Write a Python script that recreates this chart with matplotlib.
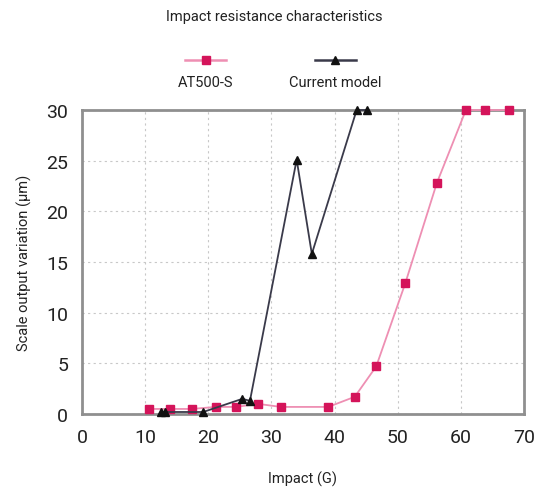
import matplotlib
matplotlib.use("Agg")
import matplotlib.pyplot as plt
from matplotlib.lines import Line2D

plt.rcParams['font.family'] = ['Roboto', 'DejaVu Sans']

title = "Impact resistance characteristics"
x_label = "Impact (G)"
y_label = "Scale output variation (µm)"
series_names = ["AT500-S", "Current model"]

at500_x = [10.6, 13.9, 17.4, 21.2, 24.4, 27.9, 31.5, 39.0, 43.2, 46.6, 51.2, 56.2, 60.8, 63.8, 67.6]
at500_y = [0.5, 0.5, 0.5, 0.7, 0.7, 1.0, 0.7, 0.7, 1.7, 4.7, 12.9, 22.8, 30, 30, 30]

cur_x = [12.5, 13.2, 19.2, 25.4, 26.6, 34.0, 36.4, 43.5, 45.1]
cur_y = [0.2, 0.2, 0.2, 1.5, 1.3, 25.1, 15.8, 30, 30]

x_ticks = [0, 10, 20, 30, 40, 50, 60, 70]
y_ticks = [0, 5, 10, 15, 20, 25, 30]

pink_line = '#ee8fb3'
pink_mark = '#d4145a'
dark_line = '#3a3a4a'
dark_mark = '#111111'
spine_col = '#8f8f8f'
text_col = '#222222'

fig = plt.figure(figsize=(5.48, 4.89), dpi=100)
ax = fig.add_axes([0.1496, 0.1513, 0.8066, 0.6217])

ax.plot(at500_x, at500_y, color=pink_line, lw=1.3, marker='s', ms=6,
        mfc=pink_mark, mec=pink_mark, zorder=3, clip_on=False)
ax.plot(cur_x, cur_y, color=dark_line, lw=1.3, marker='^', ms=5.5,
        mfc=dark_mark, mec=dark_mark, zorder=4, clip_on=False)

ax.set_xlim(0, 70)
ax.set_ylim(0, 30)
ax.set_xticks(x_ticks)
ax.set_yticks(y_ticks)
ax.tick_params(length=0, labelsize=14, colors=text_col, pad=10)
ax.grid(True, color='#c8c8c8', linestyle=(0, (2, 3)), lw=0.8)
ax.set_axisbelow(True)
for s in ax.spines.values():
    s.set_color(spine_col)
    s.set_linewidth(2)

ax.set_xlabel(x_label, fontsize=10.5, color=text_col, labelpad=18)
ax.set_ylabel(y_label, fontsize=10.5, color=text_col, labelpad=10)
fig.text(0.5, 0.965, title, ha='center', va='center', fontsize=10.5, color=text_col)

# legend: handle above label
legend_items = [
    (0.375, pink_line, pink_mark, 's', series_names[0]),
    (0.612, dark_line, dark_mark, '^', series_names[1]),
]
for cx, lc, mc, mk, name in legend_items:
    fig.add_artist(Line2D([cx - 0.037, cx + 0.037], [0.876, 0.876], transform=fig.transFigure,
                          color=lc, lw=1.8))
    fig.add_artist(Line2D([cx], [0.876], transform=fig.transFigure, marker=mk, ms=5.5,
                          mfc=mc, mec=mc, lw=0))
    fig.text(cx, 0.83, name, ha='center', va='center', fontsize=10.5, color=text_col)

fig.savefig("out.png", dpi=100)
